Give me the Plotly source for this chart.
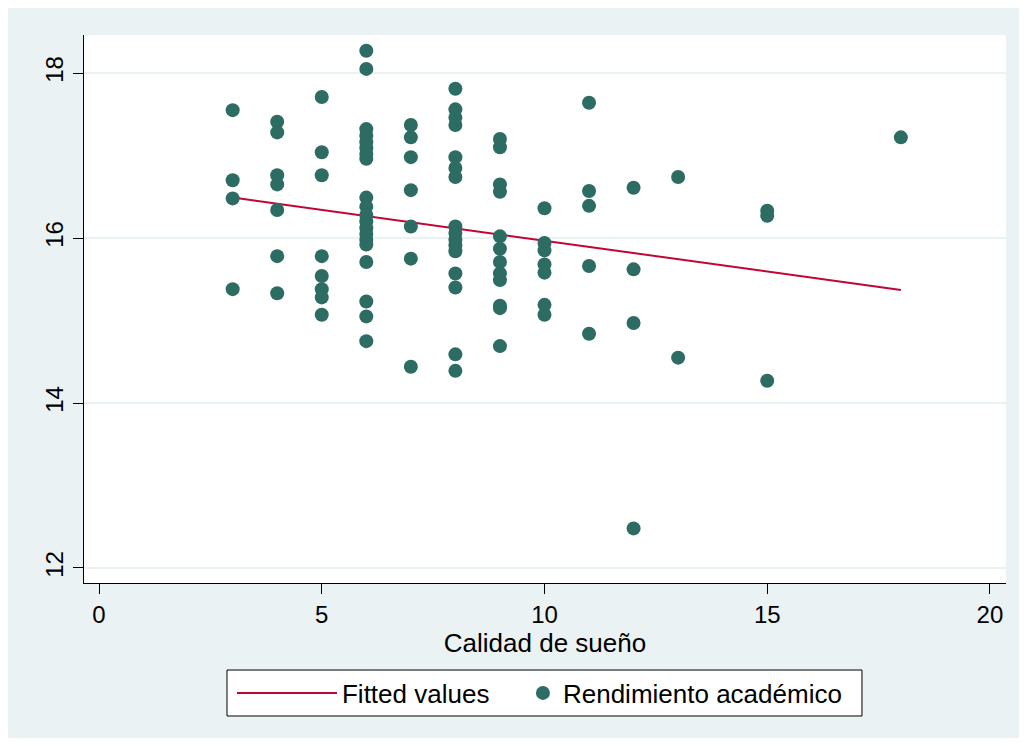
import plotly.graph_objects as go

# ---- data ----
calidad_3 = [17.55, 16.70, 16.48, 15.38]
calidad_4 = [17.41, 17.28, 16.76, 16.65, 16.34, 15.78, 15.33]
calidad_5 = [17.71, 17.04, 16.76, 15.78, 15.54, 15.38, 15.28, 15.07]
calidad_6 = [18.27, 18.05, 17.32, 17.24, 17.16, 17.09, 17.02, 16.96,
             16.49, 16.38, 16.28, 16.20, 16.12, 16.05, 15.98, 15.92,
             15.71, 15.23, 15.05, 14.75]
calidad_7 = [17.37, 17.22, 16.98, 16.58, 16.14, 15.75, 14.44]
calidad_8 = [17.81, 17.56, 17.46, 17.37, 16.98, 16.85, 16.74, 16.14,
             16.06, 15.98, 15.91, 15.84, 15.57, 15.40, 14.59, 14.39]
calidad_9 = [17.20, 17.10, 16.65, 16.56, 16.02, 15.87, 15.71, 15.57,
             15.49, 15.18, 15.15, 14.69]
calidad_10 = [16.36, 15.94, 15.85, 15.68, 15.58, 15.19, 15.07]
calidad_11 = [17.64, 16.57, 16.39, 15.66, 14.84]
calidad_12 = [16.61, 15.62, 14.97, 12.48]
calidad_13 = [16.74, 14.55]
calidad_15 = [16.33, 16.27, 14.27]
calidad_18 = [17.22]

groups = {3: calidad_3, 4: calidad_4, 5: calidad_5, 6: calidad_6,
          7: calidad_7, 8: calidad_8, 9: calidad_9, 10: calidad_10,
          11: calidad_11, 12: calidad_12, 13: calidad_13, 15: calidad_15,
          18: calidad_18}

fit_x = [3, 18]
fit_y = [16.49, 15.37]

x_ticks = [0, 5, 10, 15, 20]
y_ticks = [12, 14, 16, 18]

xs, ys = [], []
for k, vals in groups.items():
    xs += [k] * len(vals)
    ys += vals

BG = "#EAF2F3"
FONT = "Liberation Sans, Arial, sans-serif"

fig = go.Figure()
fig.add_trace(go.Scatter(x=fit_x, y=fit_y, mode="lines", name="Fitted values",
                         line=dict(color="#C10534", width=2), legend="legend"))
fig.add_trace(go.Scatter(x=xs, y=ys, mode="markers", name="Rendimiento académico",
                         marker=dict(color="#2C6C63", size=14, line=dict(width=0)),
                         legend="legend2"))

leg_common = dict(orientation="h", yanchor="middle", y=-0.2007, xanchor="left",
                  bgcolor="rgba(0,0,0,0)", borderwidth=0, font=dict(size=26))

fig.update_layout(
    width=1011, height=730,
    margin=dict(l=76, r=13, t=27, b=155),
    paper_bgcolor=BG,
    plot_bgcolor="white",
    font=dict(family=FONT, size=24, color="black"),
    showlegend=True,
    legend=dict(x=0.1605, itemwidth=100, **leg_common),
    legend2=dict(x=0.4761, itemwidth=30, **leg_common),
    shapes=[
        dict(type="rect", xref="paper", yref="paper", x0=0.1551, x1=0.8438,
             y0=-0.2427, y1=-0.1588, fillcolor="white",
             line=dict(color="black", width=1), layer="below"),
    ],
)
fig.update_xaxes(range=[-0.337, 20.36], tickvals=x_ticks, ticks="outside", ticklen=10,
                 tickwidth=1, tickcolor="black", showline=True, linecolor="black",
                 linewidth=1, showgrid=False, zeroline=False,
                 title=dict(text="Calidad de sueño", font=dict(size=26), standoff=0),
                 tickfont=dict(size=24))
fig.update_yaxes(range=[11.818, 18.461], tickvals=y_ticks, ticks="outside", ticklen=10,
                 tickwidth=1, tickcolor="black", showline=True, linecolor="black",
                 linewidth=1, showgrid=True, gridcolor=BG, gridwidth=2, zeroline=False,
                 tickangle=-90, tickfont=dict(size=24))

fig.write_html("out.html")
